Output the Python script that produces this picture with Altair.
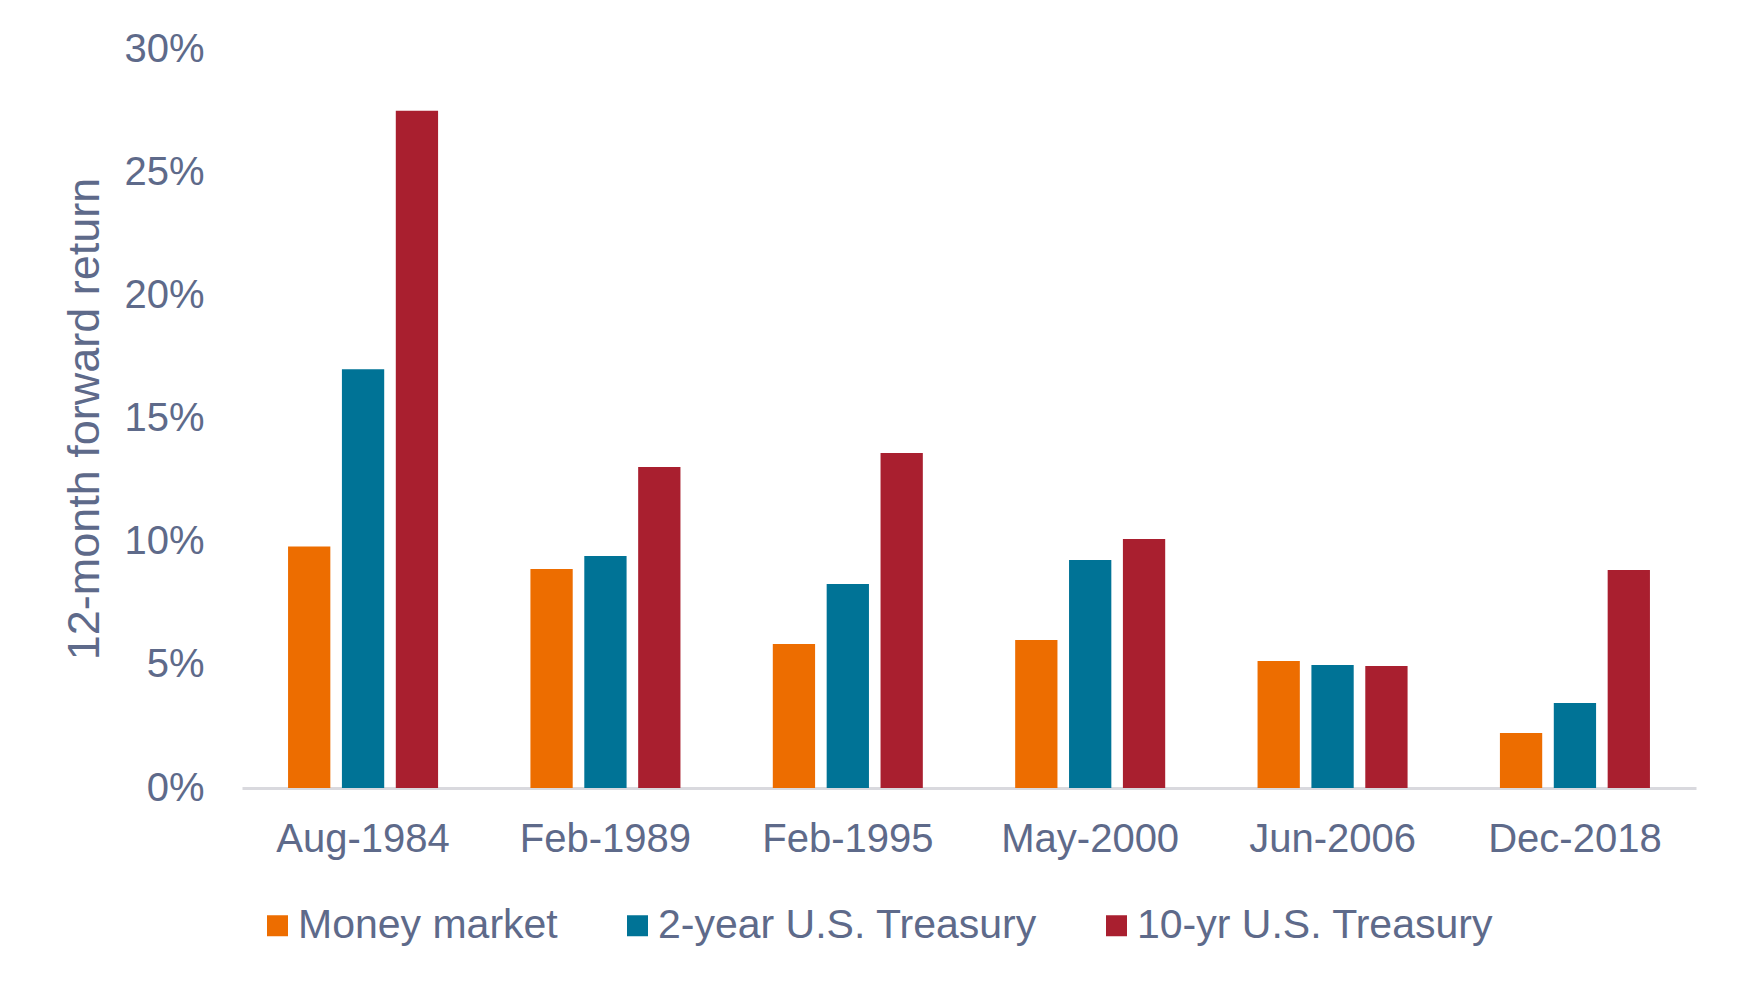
import altair as alt
import pandas as pd

dates = ["Aug-1984", "Feb-1989", "Feb-1995", "May-2000", "Jun-2006", "Dec-2018"]
series = ["Money market", "2-year U.S. Treasury", "10-yr U.S. Treasury"]
money_market = [9.8, 8.89, 5.85, 6.01, 5.16, 2.23]
two_year = [17.0, 9.42, 8.28, 9.26, 4.99, 3.45]
ten_year = [27.49, 13.03, 13.60, 10.11, 4.95, 8.85]
colors = ["#ED6D00", "#007396", "#A91F2F"]

rows = []
for s, vals in zip(series, [money_market, two_year, ten_year]):
    for d, v in zip(dates, vals):
        rows.append({"date": d, "series": s, "value": v})
df = pd.DataFrame(rows)

text_color = "#5E6A8A"
font = "Liberation Sans"

chart = alt.Chart(df).mark_bar().encode(
    x=alt.X("date:N", sort=dates, title=None,
            scale=alt.Scale(paddingInner=0.381, paddingOuter=0.19),
            axis=alt.Axis(labelAngle=0, labelFontSize=40, labelColor=text_color,
                          labelFont=font, ticks=False, tickSize=0, labelPadding=31,
                          domainColor="#D9D9DE", domainWidth=3)),
    xOffset=alt.XOffset("series:N", sort=series,
                        scale=alt.Scale(paddingInner=0.215, paddingOuter=0)),
    y=alt.Y("value:Q", title="12-month forward return",
            scale=alt.Scale(domain=[0, 30], nice=False),
            axis=alt.Axis(values=[0, 5, 10, 15, 20, 25, 30],
                          labelExpr="datum.value + '%'",
                          labelFontSize=40, labelColor=text_color, labelFont=font,
                          ticks=False, tickSize=0, labelPadding=38, domain=False,
                          grid=False, titleFontSize=45, titleColor=text_color,
                          titleFont=font, titleFontWeight="normal", titlePadding=16)),
    color=alt.Color("series:N", sort=series,
                    scale=alt.Scale(domain=series, range=colors),
                    legend=alt.Legend(title=None, orient="none", direction="horizontal",
                                      legendX=15, legendY=856, symbolType="square",
                                      symbolSize=441, symbolStrokeWidth=0,
                                      labelFontSize=41, labelColor=text_color,
                                      labelFont=font, labelOffset=0, labelLimit=0,
                                      columnPadding=59, padding=0,
                                      symbolOpacity=1)),
).properties(
    width=1454, height=739,
    autosize=alt.AutoSizeParams(type="none"),
    padding={"left": 234, "top": 41, "right": 40, "bottom": 186},
).configure_view(stroke=None).configure_axis(grid=False)

chart.save("out.html", embed_options={"renderer": "svg", "actions": False})
